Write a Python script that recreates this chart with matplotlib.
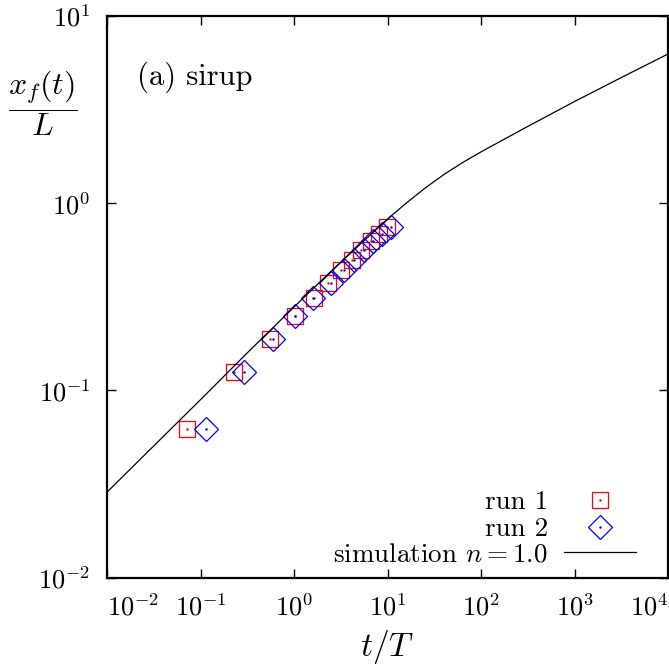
import numpy as np
import matplotlib
matplotlib.use("Agg")
import matplotlib.pyplot as plt

plt.rcParams['mathtext.fontset'] = 'cm'
plt.rcParams['font.family'] = ['cmr10', 'DejaVu Serif']
plt.rcParams['axes.unicode_minus'] = False

# ---- data ----
front_pos = [k / 16 for k in range(1, 13)]  # x_f/L levels
run1_t = [0.0716, 0.2275, 0.551, 1.033, 1.627, 2.297, 3.16, 4.22, 5.26, 6.61, 8.05, 9.97]
run2_t = [0.115, 0.291, 0.593, 1.02, 1.608, 2.503, 3.40, 4.41, 5.57, 6.95, 8.67, 11.0]
sim_logt = [-2.0, -1.5, -1.0, -0.5, 0.0, 0.4, 0.8, 1.0, 1.2, 1.4, 1.6, 1.8, 2.0,
            2.5, 3.0, 3.5, 4.0]
sim_logx = [-1.544, -1.297, -1.050, -0.800, -0.555, -0.362, -0.177, -0.085, 0.0, 0.080,
            0.152, 0.216, 0.274, 0.410, 0.543, 0.671, 0.797]
xticks = [1e-2, 1e-1, 1e0, 1e1, 1e2, 1e3, 1e4]
xticklabels = [r'$10^{-2}$', r'$10^{-1}$', r'$10^{0}$', r'$10^{1}$', r'$10^{2}$', r'$10^{3}$', r'$10^{4}$']
yticks = [1e-2, 1e-1, 1e0, 1e1]
yticklabels = [r'$10^{-2}$', r'$10^{-1}$', r'$10^{0}$', r'$10^{1}$']
labels = ['run 1', 'run 2', r'simulation $n=1.0$']

W, H = 669, 664
fig = plt.figure(figsize=(W / 100, H / 100), dpi=100)
ax = fig.add_axes([107 / W, 1 - 577.5 / H, 561 / W, 561.5 / H])
ax.set_xscale('log')
ax.set_yscale('log')

red = '#ff0000'
blue = '#0000ff'
ms = 12
ax.plot(run1_t, front_pos, ls='none', marker='s', ms=ms, mfc='none', mec=red, mew=0.9)
ax.plot(run1_t, front_pos, ls='none', marker='.', ms=1.5, color=red)
ax.plot(run2_t, front_pos, ls='none', marker='D', ms=ms * 0.98, mfc='none', mec=blue, mew=0.9)
ax.plot(run2_t, front_pos, ls='none', marker='.', ms=1.5, color=blue)
ax.plot(10 ** np.array(sim_logt), 10 ** np.array(sim_logx), color='black', lw=0.9)

ax.set_xlim(1e-2, 1e4)
ax.set_ylim(1e-2, 1e1)
ax.set_xticks(xticks)
ax.set_xticklabels(xticklabels)
ax.set_yticks(yticks)
ax.set_yticklabels(yticklabels)
ax.minorticks_off()
ax.tick_params(which='major', direction='in', length=6.5, width=1.0,
               top=True, right=True, labelsize=19, color='black')
ax.tick_params(axis='x', pad=12)
ax.tick_params(axis='y', pad=12)
xl = ax.get_xticklabels()
xl[0].set_horizontalalignment('left')
xl[-1].set_horizontalalignment('right')
for s in ax.spines.values():
    s.set_linewidth(1.6)

ax.set_xlabel(r'$t/T$', fontsize=24, labelpad=5)
fig.text(43 / W, 1 - 103 / H, r'$\dfrac{x_f(t)}{L}$', fontsize=23, ha='center', va='center')
ax.text(0.0535, 0.891, '(a) sirup', transform=ax.transAxes, fontsize=22, ha='left', va='center')

# legend (gnuplot style, right-aligned text)
rows = [0.138, 0.090, 0.0454]
tx = 0.786
lfs = 19.5
ax.text(tx, rows[0], labels[0], transform=ax.transAxes, fontsize=lfs, ha='right', va='center_baseline')
ax.text(tx, rows[1], labels[1], transform=ax.transAxes, fontsize=lfs, ha='right', va='center_baseline')
ax.text(tx, rows[2], labels[2], transform=ax.transAxes, fontsize=lfs, ha='right', va='center_baseline')
ax.plot([0.879], [rows[0]], transform=ax.transAxes, marker='s', ms=ms * 0.95, mfc='none', mec=red, mew=0.9, clip_on=False)
ax.plot([0.879], [rows[0]], transform=ax.transAxes, marker='.', ms=1.5, color=red)
ax.plot([0.879], [rows[1]], transform=ax.transAxes, marker='D', ms=ms * 0.98, mfc='none', mec=blue, mew=0.9, clip_on=False)
ax.plot([0.879], [rows[1]], transform=ax.transAxes, marker='.', ms=1.5, color=blue)
ax.plot([0.815, 0.943], [rows[2], rows[2]], transform=ax.transAxes, color='black', lw=0.9)

fig.savefig('out.png', dpi=100)
